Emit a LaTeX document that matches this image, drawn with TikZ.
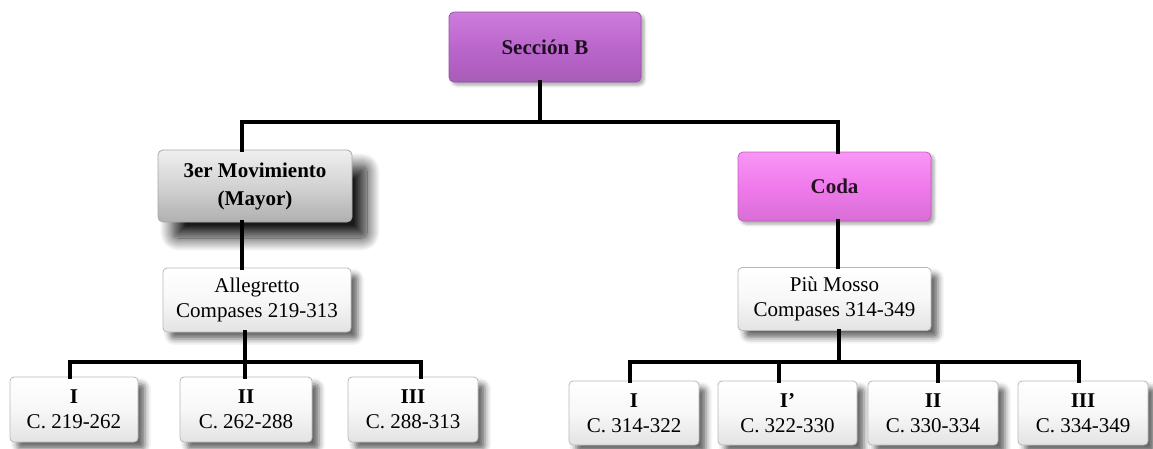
\documentclass[tikz,border=0pt]{standalone}
\usepackage{fontspec}
\setmainfont{Liberation Serif}
\usetikzlibrary{shadows.blur}
\definecolor{purpB}{RGB}{187,102,204}
\definecolor{purpBtop}{RGB}{205,125,220}
\definecolor{pinkC}{RGB}{240,122,236}
\definecolor{pinkCtop}{RGB}{248,150,245}
\tikzset{
  box/.style={draw=gray!55, line width=0.8pt, rounded corners=4pt, align=center,
    inner sep=0pt, font=\fontsize{21}{25}\selectfont,
    top color=white, bottom color=gray!22, middle color=gray!6,
    blur shadow={shadow xshift=7pt, shadow yshift=-7pt, shadow blur radius=6pt, shadow opacity=60}},
  headbox/.style={rounded corners=5pt, align=center, inner sep=0pt,
    font=\bfseries\fontsize{21}{28}\selectfont},
  purplebox/.style={headbox, draw=purpB!80!black, line width=0.8pt, top color=purpBtop, bottom color=purpB!90!black, middle color=purpB, text=black!85!purpB,
    blur shadow={shadow xshift=3pt, shadow yshift=-3pt, shadow blur radius=3pt, shadow opacity=35}},
  pinkbox/.style={headbox, draw=pinkC!80!black, line width=0.8pt, top color=pinkCtop, bottom color=pinkC!90!black, middle color=pinkC, text=black!85!pinkC,
    blur shadow={shadow xshift=3pt, shadow yshift=-3pt, shadow blur radius=3pt, shadow opacity=35}},
  graybox/.style={headbox, draw=gray!70, line width=0.8pt, top color=gray!12, bottom color=gray!62, middle color=gray!35,
    blur shadow={shadow xshift=15pt, shadow yshift=-16pt, shadow blur radius=13pt, shadow blur steps=20, shadow opacity=90}},
  conn/.style={line width=4pt, black, line cap=rect}
}
\begin{document}
\begin{tikzpicture}[x=1pt,y=-1pt]
\useasboundingbox (0,0) rectangle (1153,448);
% top level
\node[purplebox, minimum width=192pt, minimum height=70pt] (secB) at (545,47) {Sección B};
\node[graybox, minimum width=194pt, minimum height=72pt] (mov) at (255,186) {3er Movimiento\\(Mayor)};
\node[pinkbox, minimum width=193pt, minimum height=69pt] (coda) at (834.5,186.5) {Coda};
\node[box, minimum width=188pt, minimum height=64pt] (alle) at (257,300) {Allegretto\\Compases 219-313};
\node[box, minimum width=193pt, minimum height=63pt] (piu) at (834.5,299) {Più Mosso\\Compases 314-349};
% bottom left
\node[box, minimum width=128pt, minimum height=65pt] (l1) at (74,409.5) {\textbf{I}\\C. 219-262};
\node[box, minimum width=132pt, minimum height=65pt] (l2) at (246,409.5) {\textbf{II}\\C. 262-288};
\node[box, minimum width=130pt, minimum height=65pt] (l3) at (413,409.5) {\textbf{III}\\C. 288-313};
% bottom right
\node[box, minimum width=130pt, minimum height=64pt] (r1) at (634,413) {\textbf{I}\\C. 314-322};
\node[box, minimum width=139pt, minimum height=64pt] (r2) at (787.5,413) {\textbf{I’}\\C. 322-330};
\node[box, minimum width=130pt, minimum height=64pt] (r3) at (933,413) {\textbf{II}\\C. 330-334};
\node[box, minimum width=130pt, minimum height=64pt] (r4) at (1083,413) {\textbf{III}\\C. 334-349};
% junction coordinates
\coordinate (j0) at (540,122);
\coordinate (ja) at (242,122);
\coordinate (jb) at (838,122);
\coordinate (jl) at (245,362);
\coordinate (jr) at (839,362);
% connectors
\draw[conn] (secB.south -| j0) -- (j0);
\draw[conn] (ja) -- (jb);
\draw[conn] (ja) -- (ja |- mov.north);
\draw[conn] (jb) -- (jb |- coda.north);
\draw[conn] (mov.south -| ja) -- (ja |- alle.north);
\draw[conn] (coda.south -| jb) -- (jb |- piu.north);
\draw[conn] (alle.south -| jl) -- (jl);
\draw[conn] (piu.south -| jr) -- (jr);
\draw[conn] (70,362) coordinate (la) -- (421,362) coordinate (lc);
\draw[conn] (la) -- (la |- l1.north);
\draw[conn] (jl) -- (jl |- l2.north);
\draw[conn] (lc) -- (lc |- l3.north);
\draw[conn] (630,362) coordinate (ra) -- (1079,362) coordinate (rd);
\coordinate (rb) at (779,362);
\coordinate (rc) at (938,362);
\draw[conn] (ra) -- (ra |- r1.north);
\draw[conn] (rb) -- (rb |- r2.north);
\draw[conn] (rc) -- (rc |- r3.north);
\draw[conn] (rd) -- (rd |- r4.north);
\end{tikzpicture}
\end{document}
